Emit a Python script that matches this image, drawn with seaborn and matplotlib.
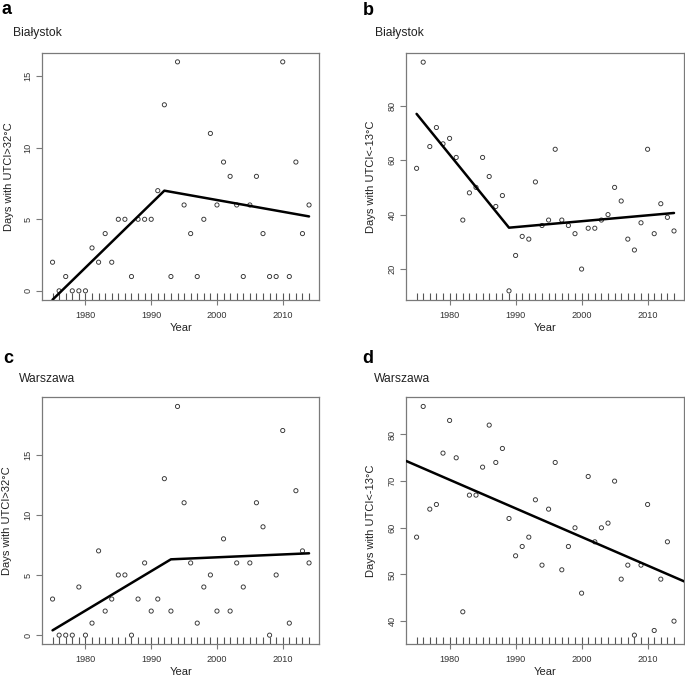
import numpy as np
import pandas as pd
import matplotlib
matplotlib.use("Agg")
import matplotlib.pyplot as plt
import seaborn as sns

# ---------------- data ----------------
years = list(range(1975, 2015))

bialystok_hot = [2, 0, 1, 0, 0, 0, 3, 2, 4, 2, 5, 5, 1, 5, 5, 5, 7, 13, 1, 16,
                 6, 4, 1, 5, 11, 6, 9, 8, 6, 1, 6, 8, 4, 1, 1, 16, 1, 9, 4, 6]
bialystok_cold = [57, 96, 65, 72, 66, 68, 61, 38, 48, 50, 61, 54, 43, 47, 12, 25, 32, 31, 52, 36,
                  38, 64, 38, 36, 33, 20, 35, 35, 38, 40, 50, 45, 31, 27, 37, 64, 33, 44, 39, 34]
warszawa_hot = [3, 0, 0, 0, 4, 0, 1, 7, 2, 3, 5, 5, 0, 3, 6, 2, 3, 13, 2, 19,
                11, 6, 1, 4, 5, 2, 8, 2, 6, 4, 6, 11, 9, 0, 5, 17, 1, 12, 7, 6]
warszawa_cold = [58, 86, 64, 65, 76, 83, 75, 42, 67, 67, 73, 82, 74, 77, 62, 54, 56, 58, 66, 52,
                 64, 74, 51, 56, 60, 46, 71, 57, 60, 61, 70, 49, 52, 37, 52, 65, 38, 49, 57, 40]

# fitted (segmented) trend lines
fit_years_a = [1975, 1992, 2014]
fit_vals_a = [-0.62, 7.0, 5.2]
fit_years_b = [1975, 1989, 2014]
fit_vals_b = [77.0, 35.2, 40.6]
fit_years_c = [1975, 1993, 2014]
fit_vals_c = [0.4, 6.3, 6.8]
# simple linear trend for panel d (year, value) and slope per year
fit_point_d = (1975, 73.35)
fit_slope_d = -0.6125

x_ticks = [1980, 1990, 2000, 2010]
y_ticks_hot = [0, 5, 10, 15]
y_ticks_b = [20, 40, 60, 80]
y_ticks_d = [40, 50, 60, 70, 80]

letters = ["a", "b", "c", "d"]
stations = ["Białystok", "Białystok", "Warszawa", "Warszawa"]
ylabels = ["Days with UTCI>32°C", "Days with UTCI<-13°C",
           "Days with UTCI>32°C", "Days with UTCI<-13°C"]

# ---------------- style ----------------
sns.set_theme(style="white")
plt.rcParams['font.family'] = ['Liberation Sans', 'DejaVu Sans']

W, H = 685, 678
fig = plt.figure(figsize=(W / 100, H / 100), dpi=100)

def px_axes(left, top, right, bottom):
    return fig.add_axes([left / W, 1 - bottom / H, (right - left) / W, (bottom - top) / H])

axes = [
    px_axes(42.3, 52.7, 319.3, 300.0),
    px_axes(406.3, 53.0, 684.3, 300.0),
    px_axes(42.3, 397.3, 319.3, 644.3),
    px_axes(406.3, 397.3, 684.3, 644.3),
]

series = [bialystok_hot, bialystok_cold, warszawa_hot, warszawa_cold]
yticks = [y_ticks_hot, y_ticks_b, y_ticks_hot, y_ticks_d]
fits = [(fit_years_a, fit_vals_a), (fit_years_b, fit_vals_b), (fit_years_c, fit_vals_c), None]
ylab_x = [-0.103, -0.11, -0.11, -0.11]

letter_pos = [(2, 14.3), (363, 15.0), (3, 363.3), (362.7, 363.3)]
title_pos = [(13.3, 35.7), (375.3, 35.7), (19.3, 381.7), (373.7, 381.7)]

frame_col = "#7a7a7a"

def r_lim(vals):
    lo, hi = min(vals), max(vals)
    pad = 0.04 * (hi - lo)
    return lo - pad, hi + pad

for i, ax in enumerate(axes):
    df = pd.DataFrame({"Year": years, "Days": series[i]})
    sns.scatterplot(data=df, x="Year", y="Days", ax=ax, marker="o", s=9,
                    facecolor="none", edgecolor="#333333", linewidth=0.65, zorder=3)
    sns.rugplot(x=years, ax=ax, height=0.03, color="#555555", linewidth=0.8, expand_margins=False)
    if fits[i] is not None:
        fx, fv = fits[i]
        sns.lineplot(x=fx, y=fv, ax=ax, color="black", linewidth=1.8, zorder=4)
    else:
        ax.axline(fit_point_d, slope=fit_slope_d, color="black", linewidth=1.8, zorder=4)

    ax.set_xlim(*r_lim(years))
    ax.set_ylim(*r_lim(series[i]))
    ax.set_xticks(x_ticks)
    ax.set_yticks(yticks[i])
    ax.set_yticklabels([str(v) for v in yticks[i]], rotation=90, va="center")

    for sp in ax.spines.values():
        sp.set_visible(True)
        sp.set_color(frame_col)
        sp.set_linewidth(0.9)

    ax.tick_params(axis="x", which="both", direction="out", length=3.4, width=0.8,
                   color=frame_col, labelsize=6.6, labelcolor="#333333", pad=4.6, bottom=True)
    ax.tick_params(axis="y", which="both", direction="out", length=4.3, width=0.8,
                   color=frame_col, labelsize=6.6, labelcolor="#333333", pad=2.6, left=True)

    ax.set_xlabel("Year", fontsize=8.0, color="#222222")
    ax.xaxis.set_label_coords(0.5, -0.093)
    ax.set_ylabel(ylabels[i], fontsize=8.0, color="#222222")
    ax.yaxis.set_label_coords(ylab_x[i], 0.5)
    ax.grid(False)

    lx, ly = letter_pos[i]
    fig.text(lx / W, 1 - ly / H, letters[i], fontsize=13, fontweight="bold",
             va="baseline", ha="left", color="black")
    tx, ty = title_pos[i]
    fig.text(tx / W, 1 - ty / H, stations[i], fontsize=8.7, va="baseline",
             ha="left", color="#222222")

fig.savefig("out.png", dpi=100)
